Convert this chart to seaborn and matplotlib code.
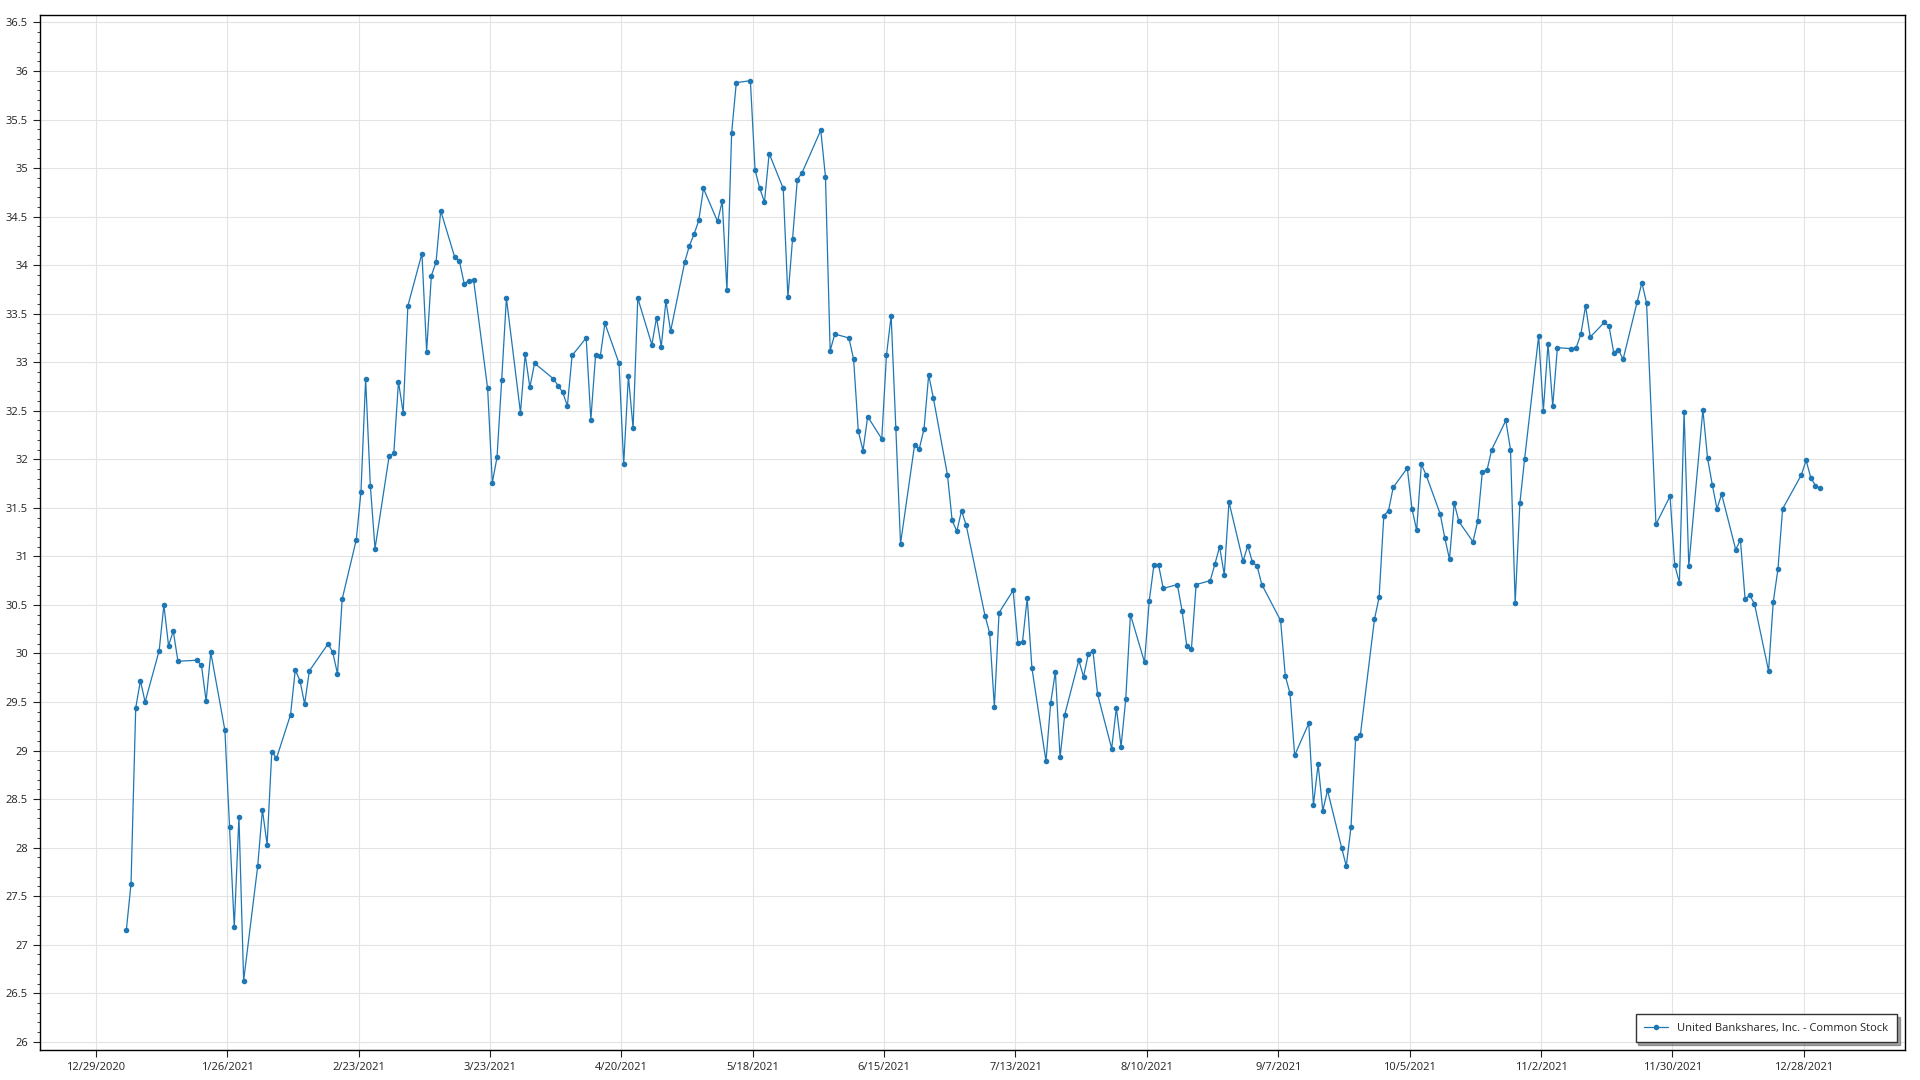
import pandas as pd
import matplotlib
matplotlib.use("Agg")
import matplotlib.pyplot as plt
from matplotlib.ticker import MultipleLocator, FixedLocator
import seaborn as sns

# closing price per trading day, month by month
jan = [27.15, 27.63, 29.44, 29.72, 29.50, 30.03, 30.50, 30.08, 30.23, 29.92,
       29.93, 29.88, 29.51, 30.01, 29.21, 28.21, 27.18, 28.32, 26.63]
feb = [27.81, 28.39, 28.03, 28.99, 28.92, 29.37, 29.83, 29.72, 29.48, 29.82,
       30.10, 30.01, 29.79, 30.56, 31.17, 31.66, 32.83, 31.73, 31.08]
mar = [32.03, 32.06, 32.80, 32.48, 33.58, 34.12, 33.11, 33.89, 34.03, 34.56,
       34.08, 34.04, 33.81, 33.84, 33.85, 32.73, 31.76, 32.02, 32.82, 33.66,
       32.48, 33.08, 32.74]
apr = [32.99, 32.83, 32.76, 32.69, 32.55, 33.07, 33.25, 32.41, 33.07, 33.06,
       33.40, 32.99, 31.95, 32.86, 32.32, 33.66, 33.18, 33.46, 33.16, 33.63,
       33.32]
may = [34.03, 34.20, 34.32, 34.46, 34.79, 34.45, 34.66, 33.74, 35.36, 35.88,
       35.90, 34.98, 34.79, 34.65, 35.15, 34.79, 33.67, 34.27, 34.88, 34.95]
jun = [35.39, 34.91, 33.12, 33.29, 33.25, 33.03, 32.29, 32.09, 32.44, 32.21,
       33.07, 33.48, 32.32, 31.13, 32.15, 32.11, 32.31, 32.87, 32.63, 31.84,
       31.37, 31.26]
jul = [31.47, 31.32, 30.39, 30.21, 29.45, 30.42, 30.65, 30.11, 30.12, 30.57,
       29.85, 28.89, 29.49, 29.81, 28.93, 29.37, 29.93, 29.76, 29.99, 30.03,
       29.58]
aug = [29.02, 29.44, 29.04, 29.53, 30.40, 29.91, 30.54, 30.91, 30.91, 30.67,
       30.71, 30.44, 30.08, 30.05, 30.71, 30.75, 30.92, 31.10, 30.81, 31.56,
       30.95, 31.11]
sep = [30.94, 30.90, 30.71, 30.34, 29.77, 29.59, 28.95, 29.28, 28.44, 28.86,
       28.38, 28.59, 28.00, 27.81, 28.21, 29.13, 29.16, 30.35, 30.58, 31.42,
       31.47]
oct = [31.71, 31.91, 31.49, 31.27, 31.95, 31.84, 31.44, 31.19, 30.97, 31.55,
       31.36, 31.15, 31.36, 31.87, 31.89, 32.10, 32.40, 32.10, 30.52, 31.55,
       32.00]
nov = [33.27, 32.50, 33.19, 32.55, 33.15, 33.14, 33.15, 33.29, 33.58, 33.26,
       33.41, 33.37, 33.10, 33.13, 33.03, 33.62, 33.82, 33.61, 31.33, 31.62,
       30.91]
dec = [30.73, 32.49, 30.90, 32.51, 32.01, 31.74, 31.49, 31.64, 31.07, 31.17,
       30.56, 30.60, 30.51, 29.82, 30.53, 30.87, 31.49, 31.84, 31.99, 31.81,
       31.73, 31.70]

# market closed on these days
holidays = ["2021-01-01", "2021-01-18", "2021-02-15", "2021-04-02", "2021-05-31",
            "2021-07-05", "2021-09-06", "2021-11-25", "2021-12-24"]

x_tick_labels = ["12/29/2020", "1/26/2021", "2/23/2021", "3/23/2021", "4/20/2021",
                 "5/18/2021", "6/15/2021", "7/13/2021", "8/10/2021", "9/7/2021",
                 "10/5/2021", "11/2/2021", "11/30/2021", "12/28/2021"]
y_ticks = [26, 26.5, 27, 27.5, 28, 28.5, 29, 29.5, 30, 30.5, 31, 31.5,
           32, 32.5, 33, 33.5, 34, 34.5, 35, 35.5, 36, 36.5]

series_name = "United Bankshares, Inc. - Common Stock"

prices = jan + feb + mar + apr + may + jun + jul + aug + sep + oct + nov + dec
dates = pd.bdate_range("2021-01-04", "2021-12-31", freq="C", holidays=holidays)
# points sit at midday in the original chart
df = pd.DataFrame({"date": dates + pd.Timedelta(hours=12), "price": prices})

sns.set_theme(style="whitegrid")
plt.rcParams["font.family"] = ["Open Sans", "DejaVu Sans"]

fig = plt.figure(figsize=(19.2, 10.8), dpi=100)
ax = fig.add_axes([0.021, 0.0282, 0.9712, 0.9582])

sns.lineplot(data=df, x="date", y="price", ax=ax, color="#1f77b4",
             linewidth=0.9, marker="o", markersize=4, markeredgewidth=0,
             label=series_name)

# axes limits / ticks
ax.set_xlim(pd.Timestamp("2020-12-17 04:00"), pd.Timestamp("2022-01-18 14:00"))
ax.set_ylim(25.92, 36.58)
tick_pos = pd.to_datetime(x_tick_labels, format="%m/%d/%Y")
ax.xaxis.set_major_locator(FixedLocator([matplotlib.dates.date2num(d) for d in tick_pos]))
ax.set_xticklabels(x_tick_labels)
ax.set_yticks(y_ticks)
ax.set_yticklabels([f"{v:g}" for v in y_ticks])
ax.yaxis.set_minor_locator(MultipleLocator(0.1))

ax.tick_params(axis="both", which="major", labelsize=8, colors="#222222",
               length=5, width=0.8, direction="out", pad=4)
ax.tick_params(axis="y", which="minor", length=2.5, width=0.6, color="#222222", left=True)
ax.tick_params(axis="x", which="major", bottom=True)
ax.tick_params(axis="y", which="major", left=True)

ax.grid(True, which="major", color="#e3e3e3", linewidth=0.8)
ax.grid(False, which="minor")
for s in ax.spines.values():
    s.set_color("black")
    s.set_linewidth(1.0)

ax.set_xlabel("")
ax.set_ylabel("")

leg = ax.legend(loc="lower right", frameon=True, fancybox=False, shadow=True,
                edgecolor="#333333", fontsize=8, borderpad=0.75,
                handlelength=2.2, borderaxespad=0,
                bbox_to_anchor=(0.9956, 0.0072))
leg.get_frame().set_linewidth(1.0)

fig.savefig("out.png", dpi=100)
